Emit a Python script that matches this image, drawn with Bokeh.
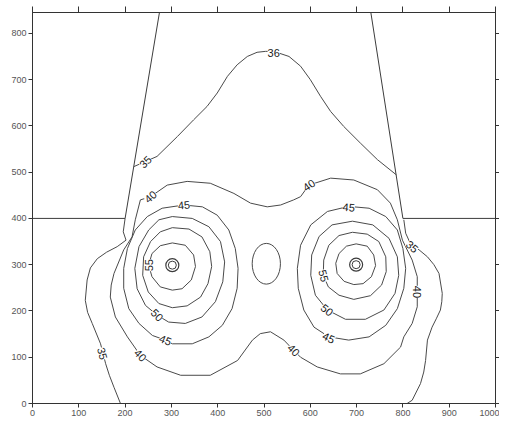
import math
from bokeh.plotting import figure
from bokeh.models import LinearAxis, FixedTicker, ColumnDataSource, LabelSet
from bokeh.core.properties import value
from bokeh.embed import file_html
from bokeh.resources import INLINE

# ---------------- tick values ----------------
x_ticks = [0, 100, 200, 300, 400, 500, 600, 700, 800, 900, 1000]
y_ticks = [0, 100, 200, 300, 400, 500, 600, 700, 800]

# ---------------- building outline ----------------
wall_left_x = [0, 200, 275]
wall_left_y = [400, 400, 850]
wall_right_x = [730, 800, 1000]
wall_right_y = [850, 400, 400]

# ---------------- contour lines (digitised) ----------------
# upper contour between the walls
c_top_x = [219, 269, 313, 348, 377, 399, 421, 442, 464, 485, 503, 521, 554, 579, 600, 622, 644, 672, 708, 745, 786]
c_top_y = [512, 534, 577, 613, 642, 671, 707, 732, 750, 759, 761, 761, 750, 729, 700, 664, 631, 599, 563, 527, 494]

# outer 35 contour, left and right
c35_left_x = [200, 196, 202, 183, 160, 140, 125, 118, 114, 119, 129, 147, 158, 166, 176, 190]
c35_left_y = [400, 371, 353, 339, 327, 313, 293, 267, 223, 197, 173, 129, 86, 61, 35, 0]
c35_right_x = [802, 806, 816, 835, 853, 867, 878, 885, 884, 881, 872, 863, 853, 849, 845, 838, 820, 809]
c35_right_y = [397, 368, 346, 332, 317, 300, 281, 238, 220, 202, 183, 165, 137, 93, 68, 43, 7, 0]

# 40 contour enclosing both sources (closed)
c40_x = [233, 255, 291, 334, 384, 435, 471, 507, 536, 564, 579, 597, 644, 694, 745, 773, 788, 799, 820, 831,
         831, 831, 820, 802, 795, 759, 708, 665, 615, 579, 564, 543, 514, 492, 475, 443, 384, 320, 269, 233,
         205, 179, 168, 170, 176, 197, 215, 222, 233]
c40_y = [440, 447, 472, 480, 476, 454, 433, 425, 429, 440, 447, 472, 487, 483, 462, 433, 397, 353, 310, 274,
         241, 209, 173, 144, 122, 86, 64, 64, 79, 100, 115, 137, 155, 151, 137, 93, 61, 61, 79, 104,
         144, 187, 230, 256, 281, 332, 360, 397, 440]

# rings around the left source (closed)
ringA_l_x = [302, 330, 348, 352, 343, 323, 302, 276, 258, 251, 258, 276, 302]
ringA_l_y = [347, 342, 321, 296, 267, 248, 245, 252, 274, 299, 324, 341, 347]
ringB_l_x = [302, 338, 366, 383, 387, 379, 363, 334, 302, 273, 250, 238, 240, 255, 276, 302]
ringB_l_y = [380, 377, 360, 328, 296, 259, 230, 211, 207, 216, 241, 277, 317, 350, 371, 380]
ringC_l_x = [302, 345, 381, 406, 415, 411, 395, 366, 330, 294, 269, 244, 226, 221, 230, 251, 273, 302]
ringC_l_y = [404, 400, 382, 350, 306, 263, 220, 187, 173, 176, 191, 212, 248, 292, 339, 375, 397, 404]
ringD_l_x = [327, 367, 399, 424, 438, 444, 442, 431, 410, 381, 345, 302, 287, 259, 230, 208, 197, 197, 205, 222, 248, 280, 327]
ringD_l_y = [429, 425, 407, 375, 335, 292, 249, 205, 169, 144, 129, 129, 137, 147, 173, 205, 249, 292, 335, 375, 404, 422, 429]

# rings around the right source (closed)
ringA_r_x = [699, 723, 737, 741, 732, 714, 694, 673, 658, 655, 662, 678, 699]
ringA_r_y = [345, 340, 321, 298, 274, 259, 257, 264, 281, 303, 324, 340, 345]
ringB_r_x = [691, 723, 748, 763, 764, 754, 730, 694, 662, 639, 628, 629, 640, 662, 691]
ringB_r_y = [370, 366, 350, 317, 285, 256, 233, 225, 234, 252, 277, 310, 342, 363, 370]
ringC_r_x = [691, 735, 770, 788, 791, 783, 759, 719, 676, 637, 611, 601, 603, 619, 647, 691]
ringC_r_y = [394, 386, 357, 317, 277, 238, 202, 182, 182, 202, 234, 277, 321, 361, 386, 394]
ringD_r_x = [683, 727, 763, 788, 800, 806, 802, 788, 763, 727, 683, 640, 608, 586, 574, 572, 579, 601, 637, 683]
ringD_r_y = [426, 422, 404, 375, 335, 292, 249, 205, 169, 144, 137, 144, 165, 202, 249, 292, 342, 386, 415, 426]

# small closed contour between the sources
oval_x = [505]
oval_y = [302]
oval_w = [61]
oval_h = [88]

# source positions
src_x = [302, 699]
src_y = [299, 300]

# contour labels
lab_text = ["35", "36", "40", "45", "55", "50", "45", "40", "35", "40", "45", "35", "40", "55", "50", "45", "40"]
lab_x = [244, 521, 255, 327, 251, 269, 287, 233, 151, 597, 683, 820, 831, 629, 636, 640, 564]
lab_y = [522, 758, 447, 429, 299, 191, 137, 104, 108, 472, 424, 339, 241, 276, 202, 142, 115]
lab_deg = [45, 0, 40, 5, 90, -45, -22, -45, -75, 35, -5, -40, -90, -75, -40, -25, -45]

# ---------------- figure ----------------
p = figure(x_range=(0, 1000), y_range=(0, 845),
           frame_width=463, frame_height=391,
           output_backend="svg", toolbar_location=None,
           min_border_left=32, min_border_top=12, min_border_right=0, min_border_bottom=0)
p.xgrid.visible = False
p.ygrid.visible = False
p.outline_line_color = "#333333"
p.background_fill_color = "white"

top_axis = LinearAxis(major_label_overrides={t: "" for t in x_ticks})
right_axis = LinearAxis(major_label_overrides={t: "" for t in y_ticks})
p.add_layout(top_axis, "above")
p.add_layout(right_axis, "right")

for ax in list(p.xaxis):
    ax.ticker = FixedTicker(ticks=x_ticks)
for ax in list(p.yaxis):
    ax.ticker = FixedTicker(ticks=y_ticks)

for ax in list(p.xaxis) + list(p.yaxis):
    ax.axis_line_color = "#333333"
    ax.major_tick_line_color = "#333333"
    ax.major_tick_out = 4
    ax.major_tick_in = 0
    ax.minor_tick_line_color = None
    ax.major_label_text_font = "Liberation Sans"
    ax.major_label_text_font_size = "9px"
    ax.major_label_text_color = "#555555"
    ax.major_label_standoff = 2

top_axis.major_label_standoff = 0
top_axis.major_tick_out = 6
right_axis.major_label_standoff = 0

wall_kw = dict(line_color="#3c3c3c", line_width=1)
p.line(wall_left_x, wall_left_y, **wall_kw)
p.line(wall_right_x, wall_right_y, **wall_kw)

ckw = dict(line_color="#4a4a4a", line_width=1, line_join="round")
for xs, ys in [(c_top_x, c_top_y), (c35_left_x, c35_left_y), (c35_right_x, c35_right_y),
               (c40_x, c40_y),
               (ringA_l_x, ringA_l_y), (ringB_l_x, ringB_l_y), (ringC_l_x, ringC_l_y), (ringD_l_x, ringD_l_y),
               (ringA_r_x, ringA_r_y), (ringB_r_x, ringB_r_y), (ringC_r_x, ringC_r_y), (ringD_r_x, ringD_r_y)]:
    p.line(xs, ys, **ckw)

p.ellipse(x=oval_x, y=oval_y, width=oval_w, height=oval_h, fill_color=None,
          line_color="#4a4a4a", line_width=1)

p.scatter(src_x, src_y, marker="circle", size=13, fill_color=None, line_color="#3c3c3c", line_width=1.2)
p.scatter(src_x, src_y, marker="circle", size=8, fill_color=None, line_color="#3c3c3c", line_width=1.0)

src = ColumnDataSource(dict(x=lab_x, y=lab_y, text=lab_text, angle=[math.radians(a) for a in lab_deg]))
labels = LabelSet(x="x", y="y", text="text", angle="angle", source=src,
                  text_align="center", text_baseline="middle",
                  text_font=value("Liberation Sans"), text_font_size="11px", text_color="#1a1a1a",
                  background_fill_color="white")
p.add_layout(labels)

open("out.html", "w").write(file_html(p, INLINE))
